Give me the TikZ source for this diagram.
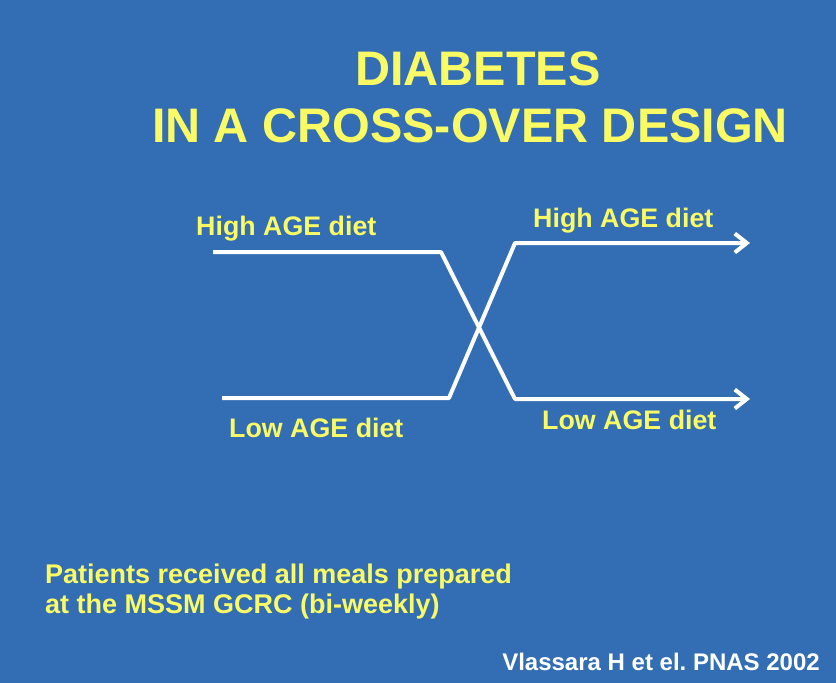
\documentclass[tikz,border=0pt]{standalone}
\usepackage{fontspec}
\setmainfont{Liberation Sans}
\usetikzlibrary{arrows.meta}
\definecolor{slideblue}{RGB}{51,110,180}
\definecolor{slideyellow}{RGB}{250,250,100}
\frenchspacing

\begin{document}
\begin{tikzpicture}[x=1pt,y=-1pt,
    title/.style={text=slideyellow,inner sep=0pt,font=\fontsize{48.5}{56}\selectfont\bfseries},
    diet/.style={text=slideyellow,inner sep=0pt,anchor=base west,font=\fontsize{26.8}{31}\selectfont\bfseries},
    note/.style={text=slideyellow,inner sep=0pt,anchor=base west,font=\fontsize{27}{30}\selectfont\bfseries},
    arm/.style={draw=white,line width=4pt,line join=round,-{Straight Barb[length=12pt,width=19pt]}}]
  \fill[slideblue] (0,0) rectangle (836,683);
  \useasboundingbox (0,0) rectangle (836,683);
  % title
  \node[title,anchor=base] (t1) at (478,85) {DIABETES};
  \node[title,anchor=base] (t2) at (470,142) {IN A CROSS-OVER DESIGN};
  % arms of the trial
  \coordinate (hs) at (213,252);
  \coordinate (hk) at (441,252);
  \coordinate (hj) at (515,399);
  \coordinate (he) at (750,399);
  \coordinate (ls) at (222,398);
  \coordinate (lk) at (449,398);
  \coordinate (lj) at (515,243);
  \coordinate (le) at (750,243);
  \draw[arm] (hs) -- (hk) -- (hj) -- (he);
  \draw[arm] (ls) -- (lk) -- (lj) -- (le);
  \node[diet] (h1) at (196,235) {High AGE diet};
  \node[diet] (h2) at (533,227) {High AGE diet};
  \node[diet] (l1) at (229,437) {Low AGE diet};
  \node[diet] (l2) at (542,429) {Low AGE diet};
  % note and reference
  \node[note] (n1) at (45,583) {Patients received all meals prepared};
  \node[note] (n2) at (45,613) {at the MSSM GCRC (bi-weekly)};
  \node[text=white,inner sep=0pt,anchor=base east,font=\fontsize{24}{28}\selectfont\bfseries] (ref) at (820,670) {Vlassara H et el. PNAS 2002};
\end{tikzpicture}
\end{document}
